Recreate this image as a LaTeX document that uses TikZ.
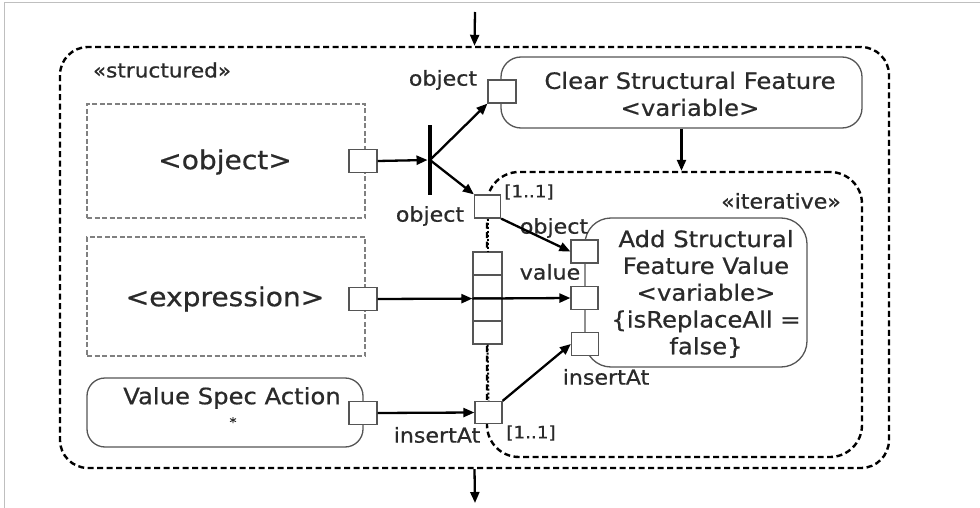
\documentclass[tikz,border=0pt]{standalone}
\usepackage{fontspec}
\setmainfont{DejaVu Sans}[FakeStretch=1.08,FakeBold=0.7]
\usetikzlibrary{arrows.meta}
\definecolor{ink}{HTML}{2A2A2A}
\definecolor{edge}{HTML}{555555}
\begin{document}
\begin{tikzpicture}[x=1pt,y=-1pt,
  lbl/.style={font=\fontsize{20.5}{24}\selectfont, text=ink, inner sep=0pt},
  small/.style={font=\fontsize{17}{20}\selectfont, text=ink, inner sep=0pt},
  main/.style={font=\fontsize{22.5}{27}\selectfont, text=ink, inner sep=0pt, align=center},
  big/.style={font=\fontsize{26}{30}\selectfont, text=ink, inner sep=0pt},
  actbox/.style={draw=edge, line width=1.3pt, rounded corners=22pt, fill=white, inner sep=0pt},
  ghost/.style={draw=black!50, line width=1.2pt, dash pattern=on 5pt off 2.5pt, inner sep=0pt},
  region/.style={draw=black, line width=2.4pt, dash pattern=on 6pt off 3.5pt, inner sep=0pt},
  pinbox/.style={draw=edge, fill=white, line width=1.2pt, minimum width=28pt, minimum height=23pt, inner sep=0pt},
  cell/.style={draw=edge, fill=white, line width=1.2pt, minimum width=29pt, minimum height=23pt, inner sep=0pt},
  flow/.style={draw=black, line width=2.3pt, -{Triangle[length=11pt,width=9pt]}},
  dotline/.style={draw=black, line width=2pt, dash pattern=on 2pt off 2pt}
]
\useasboundingbox (0,0) rectangle (980,508);
\fill[white] (0,0) rectangle (980,508);
\draw[black!25, line width=1pt] (4,508) -- (4,3) -- (980,3);

% outer structured region
\node[region, rounded corners=28pt, minimum width=829pt, minimum height=421pt] (outer) at (474.5,257.5) {};
\coordinate (topin) at (475,12);
\coordinate (botout) at (475,503);
\draw[flow] (topin) -- (outer.north);
\draw[flow] (outer.south) -- (botout);
\node[lbl, font=\fontsize{20}{24}\selectfont] (structured) at (162,70) {«structured»};

% iterative region
\node[region, rounded corners=32pt, minimum width=375pt, minimum height=285pt] (iter) at (674.5,314.5) {};
\node[lbl] (iterative) at (781,201) {«iterative»};

% left side actions
\node[ghost, minimum width=278pt, minimum height=114pt] (objbox) at (226,161) {};
\node[big] (objtxt) at (225,162) {<object>};
\node[pinbox] (objpin) at (363,161) {};

\node[ghost, minimum width=278pt, minimum height=119pt] (expbox) at (226,296.5) {};
\node[big] (exptxt) at (225,299) {<expression>};
\node[pinbox] (exppin) at (363,299) {};

\node[actbox, rounded corners=18pt, minimum width=276pt, minimum height=69pt] (vsa) at (225,412.5) {};
\node[main] (vsatxt) at (232,398) {Value Spec Action};
\node[main, font=\fontsize{13}{15}\selectfont] (vsastar) at (233,422) {*};
\node[pinbox] (vsapin) at (363,413) {};

% clear structural feature
\node[actbox, rounded corners=20pt, minimum width=361pt, minimum height=71pt] (csf) at (681.5,92.5) {};
\node[main] (csftxt) at (690,94) {Clear Structural Feature\\<variable>};
\node[pinbox] (csfpin) at (502,91.5) {};
\node[lbl] (csfpinlbl) at (443,80) {object};

% fork
\node[fill=black, minimum width=4.5pt, minimum height=70pt, inner sep=0pt] (fork) at (430,160) {};

% iterative pins
\node[pinbox, minimum width=26pt] (itobj) at (487.5,206.5) {};
\node[cell] (exp1) at (487.5,263.5) {};
\node[cell] (exp2) at (487.5,286.5) {};
\node[cell] (exp3) at (487.5,309.5) {};
\node[cell] (exp4) at (487.5,332.5) {};
\node[pinbox, minimum width=27pt, minimum height=22pt] (itins) at (488.5,412.5) {};
\draw[dotline] (itobj.south) -- (exp1.north);
\draw[dotline] (exp4.south) -- (itins.north);
\node[lbl] (itobjlbl) at (430,216) {object};
\node[lbl] (itinslbl) at (437,435) {insertAt};
\node[small] (m1) at (529,192) {[1..1]};
\node[small] (m2) at (531,433) {[1..1]};

% add structural feature value
\node[actbox, rounded corners=26pt, minimum width=222pt, minimum height=149pt] (asfv) at (696,292.5) {};
\node[main, font=\fontsize{22.5}{26.8}\selectfont] (asfvtxt) at (706,294) {Add Structural\\Feature Value\\<variable>\\\{isReplaceAll =\\false\}};
\node[pinbox, minimum width=27pt] (aobj) at (584.5,251.5) {};
\node[pinbox, minimum width=27pt] (aval) at (584.5,298) {};
\node[pinbox, minimum width=27pt] (ains) at (585,344) {};
\node[lbl] (aobjlbl) at (554,228) {object};
\node[lbl] (avallbl) at (550,272) {value};
\node[lbl] (ainslbl) at (606,377) {insertAt};

% flows
\draw[flow] (objpin.east) -- (fork.west);
\draw[flow] (fork.center) -- (csfpin.south west);
\draw[flow] (fork.center) -- (itobj.north west);
\draw[flow] (csf.south) -- (csf.south |- iter.north);
\draw[flow] (itobj.south east) -- (aobj.west);
\draw[flow] (exppin.east) -- (exp2.south west);
\draw[flow] (exp2.south west) -- (aval.west);
\draw[flow] (vsapin.east) -- (itins.west);
\draw[flow] (itins.north east) -- (ains.west);
\end{tikzpicture}
\end{document}
